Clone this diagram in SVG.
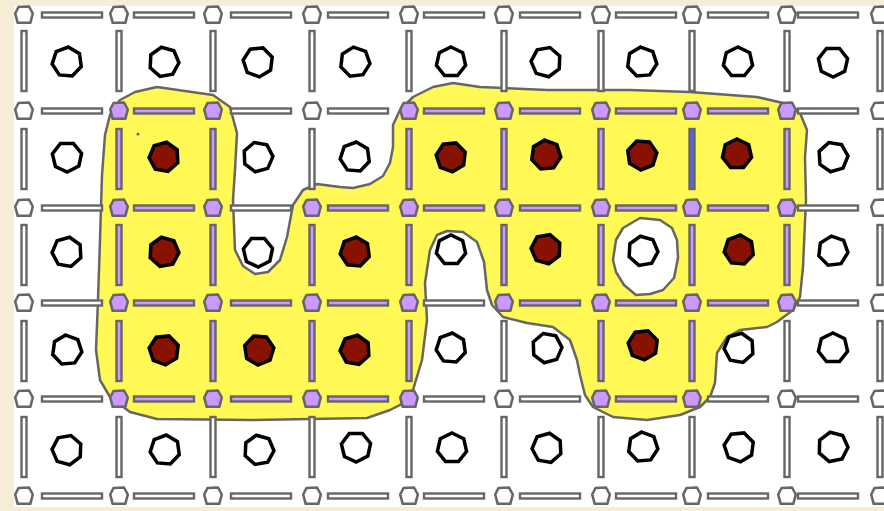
<svg xmlns="http://www.w3.org/2000/svg" xmlns:xlink="http://www.w3.org/1999/xlink" width="884" height="511" viewBox="0 0 884 511">
<style>
.v{fill:#fff;stroke:#666;stroke-width:2.6;stroke-linejoin:round}
.e{fill:#fff;stroke:#666;stroke-width:2.4}
.p{fill:#cc99ff}
.b{fill:#5566ee}
.f{fill:#fff;stroke:#000;stroke-width:3.5;stroke-linejoin:miter}
.r{fill:#881100}
.reg{fill:#fff855;fill-rule:evenodd;stroke:#666;stroke-width:2.5;stroke-linejoin:round}
</style>
<defs>
<polygon id="vt" points="-5.5,-8 5,-8.5 8.8,-1.5 6.3,7.8 -6.3,7.8 -8.8,-1.5"/>
<rect id="eh" width="60" height="5"/>
<rect id="ev" width="5" height="60"/>
<polygon id="fc" points="0,-15 11.7,-9.4 14.6,3.3 6.5,13.5 -6.5,13.5 -14.6,3.3 -11.7,-9.4"/>
</defs>
<rect width="884" height="511" fill="#f9ecd6"/>
<rect x="14" y="6" width="870" height="501" fill="#fff"/>
<g id="region">
<path class="reg" d="M157,87 L213,95 L230,107 L237,133 L235,170 L233,200 L235,250 L243,266 L255,274 L268,272 L280,260 L287,237 L293,205 L303,190 L317,184 L340,187 L353,188 L370,184 L383,176 L390,163 L393,147 L393,125 L400,110 L413,97 L433,87 L453,83 L480,87 L547,90 L630,90 L690,92 L757,97 L783,103 L800,113 L807,130 L805,157 L806,200 L803,267 L800,297 L793,310 L777,322 L767,327 L740,330 L727,337 L717,353 L715,383 L710,397 L700,407 L680,415 L647,420 L613,417 L593,407 L585,395 L580,375 L577,360 L570,340 L553,327 L527,323 L503,317 L492,305 L487,290 L484,262 L477,242 L463,232 L447,231 L437,235 L430,250 L425,283 L427,320 L422,360 L413,390 L400,405 L390,410 L367,418 L250,420 L157,419 L130,412 L110,397 L100,380 L96,350 L98,300 L100,240 L102,175 L105,135 L110,115 L120,100 L135,92 Z M613,260 L616,240 L623,228 L640,218 L660,220 L672,228 L677,240 L678,258 L674,278 L663,290 L650,294 L636,295 L624,285 L616,272 Z"/>
<circle cx="138" cy="134" r="1.5" fill="#666"/>
</g>
<g id="edges" class="e">
<use href="#eh" x="42" y="12.5"/><use href="#eh" x="134" y="12.5"/><use href="#eh" x="231" y="12.5"/><use href="#eh" x="328" y="12.5"/><use href="#eh" x="424" y="12.5"/><use href="#eh" x="520" y="12.5"/><use href="#eh" x="616" y="12.5"/><use href="#eh" x="708" y="12.5"/><use href="#eh" x="798" y="12.5"/>
<use href="#eh" x="42" y="108.5"/><use class="p" href="#eh" x="134" y="108.5"/><use href="#eh" x="231" y="108.5"/><use href="#eh" x="328" y="108.5"/><use class="p" href="#eh" x="424" y="108.5"/><use class="p" href="#eh" x="520" y="108.5"/><use class="p" href="#eh" x="616" y="108.5"/><use class="p" href="#eh" x="708" y="108.5"/><use href="#eh" x="798" y="108.5"/>
<use href="#eh" x="42" y="205.5"/><use class="p" href="#eh" x="134" y="205.5"/><use href="#eh" x="231" y="205.5"/><use class="p" href="#eh" x="328" y="205.5"/><use class="p" href="#eh" x="424" y="205.5"/><use class="p" href="#eh" x="520" y="205.5"/><use class="p" href="#eh" x="616" y="205.5"/><use class="p" href="#eh" x="708" y="205.5"/><use href="#eh" x="798" y="205.5"/>
<use href="#eh" x="42" y="300.5"/><use class="p" href="#eh" x="134" y="300.5"/><use class="p" href="#eh" x="231" y="300.5"/><use class="p" href="#eh" x="328" y="300.5"/><use href="#eh" x="424" y="300.5"/><use class="p" href="#eh" x="520" y="300.5"/><use class="p" href="#eh" x="616" y="300.5"/><use class="p" href="#eh" x="708" y="300.5"/><use href="#eh" x="798" y="300.5"/>
<use href="#eh" x="42" y="396.5"/><use class="p" href="#eh" x="134" y="396.5"/><use class="p" href="#eh" x="231" y="396.5"/><use class="p" href="#eh" x="328" y="396.5"/><use href="#eh" x="424" y="396.5"/><use href="#eh" x="520" y="396.5"/><use class="p" href="#eh" x="616" y="396.5"/><use href="#eh" x="708" y="396.5"/><use href="#eh" x="798" y="396.5"/>
<use href="#eh" x="42" y="493.5"/><use href="#eh" x="134" y="493.5"/><use href="#eh" x="231" y="493.5"/><use href="#eh" x="328" y="493.5"/><use href="#eh" x="424" y="493.5"/><use href="#eh" x="520" y="493.5"/><use href="#eh" x="616" y="493.5"/><use href="#eh" x="708" y="493.5"/><use href="#eh" x="798" y="493.5"/>
<use href="#ev" x="21.5" y="31"/><use href="#ev" x="116.5" y="31"/><use href="#ev" x="210.5" y="31"/><use href="#ev" x="309.5" y="31"/><use href="#ev" x="406.5" y="31"/><use href="#ev" x="501.5" y="31"/><use href="#ev" x="598.5" y="31"/><use href="#ev" x="689.5" y="31"/><use href="#ev" x="784.5" y="31"/><use href="#ev" x="877.5" y="31"/>
<use href="#ev" x="21.5" y="129"/><use class="p" href="#ev" x="116.5" y="129"/><use class="p" href="#ev" x="210.5" y="129"/><use href="#ev" x="309.5" y="129"/><use class="p" href="#ev" x="406.5" y="129"/><use class="p" href="#ev" x="501.5" y="129"/><use class="p" href="#ev" x="598.5" y="129"/><use class="b" href="#ev" x="689.5" y="129"/><use class="p" href="#ev" x="784.5" y="129"/><use href="#ev" x="877.5" y="129"/>
<use href="#ev" x="21.5" y="225"/><use class="p" href="#ev" x="116.5" y="225"/><use class="p" href="#ev" x="210.5" y="225"/><use class="p" href="#ev" x="309.5" y="225"/><use class="p" href="#ev" x="406.5" y="225"/><use class="p" href="#ev" x="501.5" y="225"/><use class="p" href="#ev" x="598.5" y="225"/><use class="p" href="#ev" x="689.5" y="225"/><use class="p" href="#ev" x="784.5" y="225"/><use href="#ev" x="877.5" y="225"/>
<use href="#ev" x="21.5" y="321"/><use class="p" href="#ev" x="116.5" y="321"/><use class="p" href="#ev" x="210.5" y="321"/><use class="p" href="#ev" x="309.5" y="321"/><use class="p" href="#ev" x="406.5" y="321"/><use href="#ev" x="501.5" y="321"/><use class="p" href="#ev" x="598.5" y="321"/><use class="p" href="#ev" x="689.5" y="321"/><use href="#ev" x="784.5" y="321"/><use href="#ev" x="877.5" y="321"/>
<use href="#ev" x="21.5" y="417"/><use href="#ev" x="116.5" y="417"/><use href="#ev" x="210.5" y="417"/><use href="#ev" x="309.5" y="417"/><use href="#ev" x="406.5" y="417"/><use href="#ev" x="501.5" y="417"/><use href="#ev" x="598.5" y="417"/><use href="#ev" x="689.5" y="417"/><use href="#ev" x="784.5" y="417"/><use href="#ev" x="877.5" y="417"/>
</g>
<g id="vertices" class="v">
<g id="v0-0"><use href="#vt" x="24" y="15"/></g><g id="v0-1"><use href="#vt" x="119" y="15"/></g><g id="v0-2"><use href="#vt" x="213" y="15"/></g><g id="v0-3"><use href="#vt" x="312" y="15"/></g><g id="v0-4"><use href="#vt" x="409" y="15"/></g><g id="v0-5"><use href="#vt" x="504" y="15"/></g><g id="v0-6"><use href="#vt" x="601" y="15"/></g><g id="v0-7"><use href="#vt" x="692" y="15"/></g><g id="v0-8"><use href="#vt" x="787" y="15"/></g><g id="v0-9"><use href="#vt" x="880" y="15"/></g>
<g id="v1-0"><use href="#vt" x="24" y="111"/></g><g id="v1-1"><use class="p" href="#vt" x="119" y="111"/></g><g id="v1-2"><use class="p" href="#vt" x="213" y="111"/></g><g id="v1-3"><use href="#vt" x="312" y="111"/></g><g id="v1-4"><use class="p" href="#vt" x="409" y="111"/></g><g id="v1-5"><use class="p" href="#vt" x="504" y="111"/></g><g id="v1-6"><use class="p" href="#vt" x="601" y="111"/></g><g id="v1-7"><use class="p" href="#vt" x="692" y="111"/></g><g id="v1-8"><use class="p" href="#vt" x="787" y="111"/></g><g id="v1-9"><use href="#vt" x="880" y="111"/></g>
<g id="v2-0"><use href="#vt" x="24" y="208"/></g><g id="v2-1"><use class="p" href="#vt" x="119" y="208"/></g><g id="v2-2"><use class="p" href="#vt" x="213" y="208"/></g><g id="v2-3"><use class="p" href="#vt" x="312" y="208"/></g><g id="v2-4"><use class="p" href="#vt" x="409" y="208"/></g><g id="v2-5"><use class="p" href="#vt" x="504" y="208"/></g><g id="v2-6"><use class="p" href="#vt" x="601" y="208"/></g><g id="v2-7"><use class="p" href="#vt" x="692" y="208"/></g><g id="v2-8"><use class="p" href="#vt" x="787" y="208"/></g><g id="v2-9"><use href="#vt" x="880" y="208"/></g>
<g id="v3-0"><use href="#vt" x="24" y="303"/></g><g id="v3-1"><use class="p" href="#vt" x="119" y="303"/></g><g id="v3-2"><use class="p" href="#vt" x="213" y="303"/></g><g id="v3-3"><use class="p" href="#vt" x="312" y="303"/></g><g id="v3-4"><use class="p" href="#vt" x="409" y="303"/></g><g id="v3-5"><use class="p" href="#vt" x="504" y="303"/></g><g id="v3-6"><use class="p" href="#vt" x="601" y="303"/></g><g id="v3-7"><use class="p" href="#vt" x="692" y="303"/></g><g id="v3-8"><use class="p" href="#vt" x="787" y="303"/></g><g id="v3-9"><use href="#vt" x="880" y="303"/></g>
<g id="v4-0"><use href="#vt" x="24" y="399"/></g><g id="v4-1"><use class="p" href="#vt" x="119" y="399"/></g><g id="v4-2"><use class="p" href="#vt" x="213" y="399"/></g><g id="v4-3"><use class="p" href="#vt" x="312" y="399"/></g><g id="v4-4"><use class="p" href="#vt" x="409" y="399"/></g><g id="v4-5"><use href="#vt" x="504" y="399"/></g><g id="v4-6"><use class="p" href="#vt" x="601" y="399"/></g><g id="v4-7"><use class="p" href="#vt" x="692" y="399"/></g><g id="v4-8"><use href="#vt" x="787" y="399"/></g><g id="v4-9"><use href="#vt" x="880" y="399"/></g>
<g id="v5-0"><use href="#vt" x="24" y="496"/></g><g id="v5-1"><use href="#vt" x="119" y="496"/></g><g id="v5-2"><use href="#vt" x="213" y="496"/></g><g id="v5-3"><use href="#vt" x="312" y="496"/></g><g id="v5-4"><use href="#vt" x="409" y="496"/></g><g id="v5-5"><use href="#vt" x="504" y="496"/></g><g id="v5-6"><use href="#vt" x="601" y="496"/></g><g id="v5-7"><use href="#vt" x="692" y="496"/></g><g id="v5-8"><use href="#vt" x="787" y="496"/></g><g id="v5-9"><use href="#vt" x="880" y="496"/></g>
</g>
<g id="faces" class="f">
<g id="f0-0"><use href="#fc" transform="translate(67,62) rotate(5)"/></g><g id="f0-1"><use href="#fc" transform="translate(164,62) rotate(-10)"/></g><g id="f0-2"><use href="#fc" transform="translate(258,62) rotate(20)"/></g><g id="f0-3"><use href="#fc" transform="translate(355,62) rotate(45)"/></g><g id="f0-4"><use href="#fc" transform="translate(451,62) rotate(0)"/></g><g id="f0-5"><use href="#fc" transform="translate(546,62) rotate(15)"/></g><g id="f0-6"><use href="#fc" transform="translate(642,62) rotate(-5)"/></g><g id="f0-7"><use href="#fc" transform="translate(738,62) rotate(0)"/></g><g id="f0-8"><use href="#fc" transform="translate(833,62) rotate(180)"/></g>
<g id="f1-0"><use href="#fc" transform="translate(67,157) rotate(25)"/></g><g id="f1-1"><use class="r" href="#fc" transform="translate(164,157) rotate(10)"/></g><g id="f1-2"><use href="#fc" transform="translate(258,157) rotate(-15)"/></g><g id="f1-3"><use href="#fc" transform="translate(355,157) rotate(5)"/></g><g id="f1-4"><use class="r" href="#fc" transform="translate(451,157) rotate(20)"/></g><g id="f1-5"><use class="r" href="#fc" transform="translate(546,155) rotate(-5)"/></g><g id="f1-6"><use class="r" href="#fc" transform="translate(642,155) rotate(30)"/></g><g id="f1-7"><use class="r" href="#fc" transform="translate(737,154) rotate(0)"/></g><g id="f1-8"><use href="#fc" transform="translate(833,157) rotate(35)"/></g>
<g id="f2-0"><use href="#fc" transform="translate(67,252) rotate(10)"/></g><g id="f2-1"><use class="r" href="#fc" transform="translate(164,252) rotate(-10)"/></g><g id="f2-2"><use href="#fc" transform="translate(258,252) rotate(25)"/></g><g id="f2-3"><use class="r" href="#fc" transform="translate(355,252) rotate(5)"/></g><g id="f2-4"><use href="#fc" transform="translate(451,250) rotate(0)"/></g><g id="f2-5"><use class="r" href="#fc" transform="translate(546,249) rotate(15)"/></g><g id="f2-6"><use href="#fc" transform="translate(643,251) rotate(-10)"/></g><g id="f2-7"><use class="r" href="#fc" transform="translate(739,250) rotate(5)"/></g><g id="f2-8"><use href="#fc" transform="translate(833,251) rotate(45)"/></g>
<g id="f3-0"><use href="#fc" transform="translate(67,350) rotate(-5)"/></g><g id="f3-1"><use class="r" href="#fc" transform="translate(164,350) rotate(20)"/></g><g id="f3-2"><use class="r" href="#fc" transform="translate(259,350) rotate(30)"/></g><g id="f3-3"><use class="r" href="#fc" transform="translate(355,350) rotate(10)"/></g><g id="f3-4"><use href="#fc" transform="translate(451,348) rotate(5)"/></g><g id="f3-5"><use href="#fc" transform="translate(547,348) rotate(-15)"/></g><g id="f3-6"><use class="r" href="#fc" transform="translate(643,345) rotate(20)"/></g><g id="f3-7"><use href="#fc" transform="translate(739,348) rotate(10)"/></g><g id="f3-8"><use href="#fc" transform="translate(833,348) rotate(0)"/></g>
<g id="f4-0"><use href="#fc" transform="translate(67,450) rotate(15)"/></g><g id="f4-1"><use href="#fc" transform="translate(165,450) rotate(5)"/></g><g id="f4-2"><use href="#fc" transform="translate(259,450) rotate(-10)"/></g><g id="f4-3"><use href="#fc" transform="translate(356,447) rotate(25)"/></g><g id="f4-4"><use href="#fc" transform="translate(452,448) rotate(0)"/></g><g id="f4-5"><use href="#fc" transform="translate(547,448) rotate(10)"/></g><g id="f4-6"><use href="#fc" transform="translate(643,447) rotate(-5)"/></g><g id="f4-7"><use href="#fc" transform="translate(739,447) rotate(20)"/></g><g id="f4-8"><use href="#fc" transform="translate(833,447) rotate(40)"/></g>
</g>
</svg>
